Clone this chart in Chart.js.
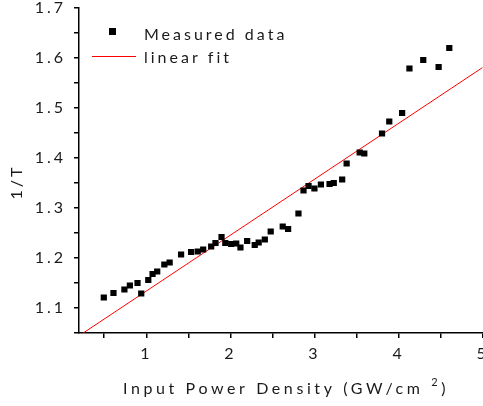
<!DOCTYPE html>
<html>
<head>
<meta charset="utf-8">
<script src="https://cdn.jsdelivr.net/npm/chart.js@4"></script>
<style>
  body { margin: 0; background: #fff; }
  #wrap { width: 483px; height: 406px; overflow: hidden; }
  #inner { width: 487px; height: 406px; position: relative; }
</style>
</head>
<body>
<div id="wrap"><div id="inner"><canvas id="fitChart"></canvas></div></div>
<script>
// measured points
const powerDensity = [0.495, 0.61, 0.74, 0.805, 0.896, 0.94, 1.024, 1.075, 1.13, 1.215,
    1.278, 1.414, 1.533, 1.612, 1.677, 1.772, 1.823, 1.895, 1.94, 2.01,
    2.07, 2.12, 2.2, 2.29, 2.337, 2.41, 2.48, 2.623, 2.687, 2.81,
    2.87, 2.93, 3.0, 3.077, 3.18, 3.23, 3.33, 3.383, 3.538, 3.593,
    3.804, 3.89, 4.043, 4.13, 4.294, 4.477, 4.604];
const invT = [1.121, 1.13, 1.137, 1.145, 1.15, 1.129, 1.156, 1.168, 1.173, 1.187,
    1.191, 1.207, 1.212, 1.213, 1.217, 1.223, 1.23, 1.242, 1.23, 1.228,
    1.229, 1.221, 1.234, 1.226, 1.231, 1.237, 1.253, 1.263, 1.258, 1.289,
    1.335, 1.344, 1.339, 1.347, 1.348, 1.35, 1.357, 1.389, 1.411, 1.409,
    1.449, 1.473, 1.49, 1.579, 1.596, 1.582, 1.62];
// end points of the linear fit
const fitX = [0.25, 5];
const fitY = [1.05, 1.581];

const xTicks = [0.5, 1, 1.5, 2, 2.5, 3, 3.5, 4, 4.5, 5];
const yTicks = [1.05, 1.1, 1.15, 1.2, 1.25, 1.3, 1.35, 1.4, 1.45, 1.5, 1.55, 1.6, 1.65, 1.7];

const FONT = '16px Lato';
const INK = '#1a1a1a';

const decor = {
    id: 'decor',
    beforeUpdate(chart) { chart.ctx.letterSpacing = '3px'; },
    beforeDraw(chart) { chart.ctx.letterSpacing = '3px'; },
    afterDraw(chart) {
        const ctx = chart.ctx;
        ctx.save();
        ctx.font = FONT;
        ctx.letterSpacing = '3px';
        ctx.fillStyle = INK;
        ctx.textBaseline = 'middle';

        // legend
        ctx.fillStyle = '#000';
        ctx.fillRect(109, 28, 7, 7);
        ctx.fillStyle = INK;
        ctx.fillText('Measured data', 144, 35);
        ctx.strokeStyle = '#ff0000';
        ctx.lineWidth = 1;
        ctx.beginPath();
        ctx.moveTo(92, 56.5);
        ctx.lineTo(136, 56.5);
        ctx.stroke();
        ctx.fillText('linear fit', 144, 58);

        // x title with superscript
        ctx.letterSpacing = '3.6px';
        let x = 123;
        const y = 389;
        const main = 'Input Power Density (GW/cm ';
        ctx.fillText(main, x, y);
        x += ctx.measureText(main).width;
        ctx.font = '11px Lato';
        ctx.fillText('2', x, y - 7);
        x += ctx.measureText('2').width;
        ctx.font = FONT;
        ctx.fillText(')', x, y);

        // y title
        ctx.letterSpacing = '3px';
        ctx.translate(17, 182);
        ctx.rotate(-Math.PI / 2);
        ctx.textAlign = 'center';
        ctx.fillText('1/T', 0, 0);
        ctx.restore();
    }
};

const ctx = document.getElementById('fitChart').getContext('2d');
new Chart(ctx, {
    type: 'scatter',
    data: {
        datasets: [{
            label: 'Measured data',
            data: powerDensity.map((v, i) => ({ x: v, y: invT[i] })),
            pointStyle: 'rect',
            pointRadius: 4.4,
            pointBorderWidth: 0,
            backgroundColor: '#000',
            borderColor: '#000'
        }, {
            label: 'linear fit',
            type: 'line',
            data: fitX.map((v, i) => ({ x: v, y: fitY[i] })),
            borderColor: '#ff0000',
            borderWidth: 1,
            pointRadius: 0,
            fill: false
        }]
    },
    options: {
        responsive: true,
        maintainAspectRatio: false,
        animation: false,
        layout: { padding: { left: 0, right: 0, top: 8, bottom: 0 } },
        plugins: {
            legend: { display: false },
            tooltip: { enabled: false }
        },
        scales: {
            x: {
                type: 'linear',
                min: 0.2,
                max: 5,
                afterFit: s => { s.height = 73; s.paddingLeft = 0; s.paddingRight = 0; },
                afterBuildTicks: s => { s.ticks = xTicks.map(v => ({ value: v })); },
                ticks: {
                    font: { family: 'Lato', size: 16 },
                    color: INK,
                    padding: 6,
                    maxRotation: 0,
                    autoSkip: false,
                    callback: v => Number.isInteger(v) ? String(v) : ''
                },
                grid: { drawOnChartArea: false, drawTicks: true, tickLength: 5, color: '#000', lineWidth: 1.5 },
                border: { color: '#000', width: 1.5 }
            },
            y: {
                type: 'linear',
                min: 1.05,
                max: 1.7,
                afterFit: s => { s.width = 79; s.paddingTop = 0; s.paddingBottom = 0; },
                afterBuildTicks: s => { s.ticks = yTicks.map(v => ({ value: v })); },
                ticks: {
                    font: { family: 'Lato', size: 16 },
                    color: INK,
                    padding: 8,
                    autoSkip: false,
                    callback: v => (Math.round(v * 100) % 10 === 0) ? v.toFixed(1) : ''
                },
                grid: { drawOnChartArea: false, drawTicks: true, tickLength: 5, color: '#000', lineWidth: 1.5 },
                border: { color: '#000', width: 1.5 }
            }
        }
    },
    plugins: [decor]
});
</script>
</body>
</html>
